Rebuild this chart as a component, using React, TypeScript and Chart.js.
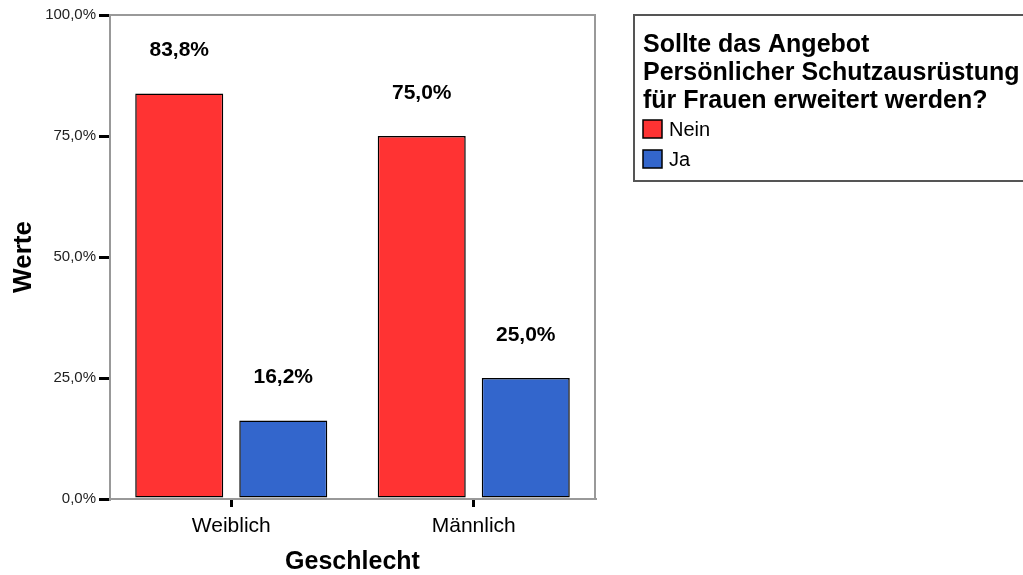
import React, { useEffect, useRef } from "react";
import { Chart, registerables } from "chart.js";

Chart.register(...registerables);

const categories = ["Weiblich", "Männlich"];
const seriesLabels = ["Nein", "Ja"];
const neinValues = [83.8, 75.0];
const jaValues = [16.2, 25.0];
const seriesColors = ["#FF3333", "#3366CC"];
const yTickValues = [0, 25, 50, 75, 100];
const legendTitle = [
  "Sollte das Angebot",
  "Persönlicher Schutzausrüstung",
  "für Frauen erweitert werden?",
];
const xTitle = "Geschlecht";
const yTitle = "Werte";

const FONT = "'Liberation Sans', Arial, Helvetica, sans-serif";
const fmt = (v: number) => v.toFixed(1).replace(".", ",") + "%";

const framePlugin = {
  id: "frame",
  beforeDatasetsDraw(chart: any) {
    const { ctx, chartArea } = chart;
    ctx.save();
    ctx.strokeStyle = "#999999";
    ctx.lineWidth = 2;
    ctx.beginPath();
    ctx.moveTo(chartArea.left, chartArea.top);
    ctx.lineTo(chartArea.right, chartArea.top);
    ctx.lineTo(chartArea.right, chartArea.bottom);
    ctx.stroke();
    ctx.restore();
  },
};

const valueLabelPlugin = {
  id: "valueLabels",
  afterDatasetsDraw(chart: any) {
    const { ctx } = chart;
    ctx.save();
    ctx.font = `bold 21px ${FONT}`;
    ctx.fillStyle = "#000";
    ctx.textAlign = "center";
    ctx.textBaseline = "middle";
    chart.data.datasets.forEach((ds: any, i: number) => {
      const meta = chart.getDatasetMeta(i);
      meta.data.forEach((el: any, j: number) => {
        ctx.fillText(fmt(ds.data[j]), el.x, el.y - 43);
      });
    });
    ctx.restore();
  },
};

const boxLegendPlugin = {
  id: "boxLegend",
  afterDraw(chart: any) {
    const { ctx } = chart;
    ctx.save();
    ctx.strokeStyle = "#555555";
    ctx.lineWidth = 2;
    ctx.strokeRect(634, 15, 420, 166);
    ctx.fillStyle = "#000";
    ctx.textAlign = "left";
    ctx.textBaseline = "middle";
    ctx.font = `bold 25px ${FONT}`;
    legendTitle.forEach((line, i) => {
      ctx.fillText(line, 643, 45 + i * 28);
    });
    ctx.font = `20px ${FONT}`;
    chart.data.datasets.forEach((ds: any, i: number) => {
      const cy = 129 + i * 30;
      ctx.fillStyle = ds.backgroundColor;
      ctx.fillRect(643, cy - 9, 19, 18);
      ctx.strokeStyle = "#000";
      ctx.lineWidth = 1.5;
      ctx.strokeRect(643, cy - 9, 19, 18);
      ctx.fillStyle = "#000";
      ctx.fillText(ds.label, 669, cy + 1);
    });
    ctx.restore();
  },
};

export default function App() {
  const ref = useRef<HTMLCanvasElement | null>(null);

  useEffect(() => {
    if (!ref.current) return;
    const chart = new Chart(ref.current, {
      type: "bar",
      data: {
        labels: categories,
        datasets: [
          {
            label: seriesLabels[0],
            data: neinValues,
            backgroundColor: seriesColors[0],
            borderColor: "#000",
            borderWidth: 1.5,
            borderSkipped: false,
            categoryPercentage: 0.858,
            barPercentage: 0.846,
          },
          {
            label: seriesLabels[1],
            data: jaValues,
            backgroundColor: seriesColors[1],
            borderColor: "#000",
            borderWidth: 1.5,
            borderSkipped: false,
            categoryPercentage: 0.858,
            barPercentage: 0.846,
          },
        ],
      },
      options: {
        responsive: false,
        animation: false,
        layout: { padding: { top: 15, right: 428, bottom: 0, left: 0 } },
        plugins: {
          legend: { display: false },
          tooltip: { enabled: false },
        },
        scales: {
          x: {
            afterFit: (s: any) => {
              s.height = 76;
            },
            grid: {
              offset: false,
              drawOnChartArea: false,
              drawTicks: true,
              tickLength: 8,
              lineWidth: 3,
              color: "#000",
            },
            border: { display: true, color: "#999999", width: 2 },
            ticks: {
              font: { family: FONT, size: 21 },
              color: "#000",
              padding: 7,
            },
            title: {
              display: true,
              text: xTitle,
              font: { family: FONT, size: 25, weight: "bold", lineHeight: 1 },
              color: "#000",
              padding: { top: 0, bottom: 0 },
            },
          },
          y: {
            min: 0,
            max: 100,
            afterFit: (s: any) => {
              s.width = 110;
            },
            afterBuildTicks: (s: any) => {
              s.ticks = yTickValues.map((v) => ({ value: v }));
            },
            grid: {
              drawOnChartArea: false,
              drawTicks: true,
              tickLength: 11,
              lineWidth: 3,
              color: "#000",
            },
            border: { display: true, color: "#999999", width: 2 },
            ticks: {
              font: { family: FONT, size: 15 },
              color: "#222",
              padding: 3,
              callback: (v: any) => fmt(Number(v)),
            },
            title: {
              display: true,
              text: yTitle,
              font: { family: FONT, size: 26, weight: "bold" },
              color: "#000",
              padding: { top: 8, bottom: 0 },
            },
          },
        },
      },
      plugins: [framePlugin, valueLabelPlugin, boxLegendPlugin],
    });
    return () => chart.destroy();
  }, []);

  return (
    <div style={{ position: "fixed", left: 0, top: 0, width: 1023, height: 575, background: "#fff" }}>
      <canvas ref={ref} width={1023} height={575} style={{ display: "block" }} />
    </div>
  );
}
